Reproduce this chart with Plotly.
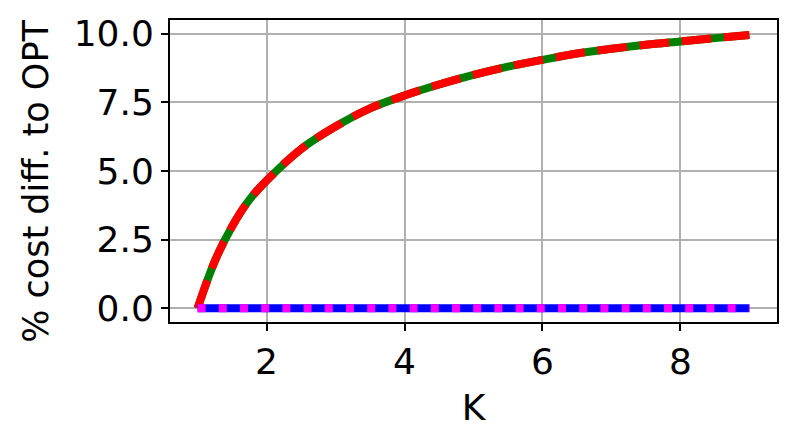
import plotly.graph_objects as go

# Data
K = [1, 1.25, 1.5, 1.75, 2, 2.5, 3, 3.5, 4, 4.5, 5, 5.5, 6, 6.5, 7, 7.5, 8, 8.5, 9]
cost_a = [0, 1.72, 2.98, 3.95, 4.65, 5.8, 6.62, 7.28, 7.75, 8.15, 8.5, 8.8, 9.05, 9.28, 9.45, 9.6, 9.72, 9.84, 9.95]
cost_b = cost_a[:]  # red dashed overlaps green exactly
cost_c = [0] * len(K)
cost_d = [0] * len(K)

y_ticks = [0, 2.5, 5, 7.5, 10]
y_tick_labels = ["0.0", "2.5", "5.0", "7.5", "10.0"]
x_ticks = [2, 4, 6, 8]

FONT = "DejaVu Sans"

fig = go.Figure()
fig.add_trace(go.Scatter(x=K, y=cost_a, mode="lines", line=dict(color="green", width=8, shape="spline")))
fig.add_trace(go.Scatter(x=K, y=cost_b, mode="lines", line=dict(color="red", width=8, shape="spline", dash="29.6px,12.8px")))
fig.add_trace(go.Scatter(x=K, y=cost_c, mode="lines", line=dict(color="blue", width=8)))
fig.add_trace(go.Scatter(x=K, y=cost_d, mode="lines", line=dict(color="magenta", width=8, dash="8px,13.2px")))

fig.update_layout(
    width=794, height=444,
    margin=dict(l=162, r=25, t=12, b=130, autoexpand=False),
    paper_bgcolor="white", plot_bgcolor="white",
    showlegend=False,
    font=dict(family=FONT, size=36, color="black"),
    annotations=[dict(
        text="% cost diff. to OPT", textangle=-90,
        xref="paper", yref="paper", x=-0.222, y=0.465,
        xanchor="center", yanchor="middle", showarrow=False,
        font=dict(family=FONT, size=35, color="black"),
    )],
)
fig.update_xaxes(
    range=[0.6, 9.4], tickvals=x_ticks, ticktext=[str(v) for v in x_ticks],
    showgrid=True, gridcolor="#b0b0b0", gridwidth=1.6,
    showline=True, linecolor="black", linewidth=2, mirror=True,
    ticks="outside", ticklen=7, tickwidth=1.6, tickcolor="black",
    zeroline=False,
    title=dict(text="K", font=dict(size=36), standoff=14),
    automargin=False,
)
fig.update_yaxes(
    range=[-0.5, 10.5], tickvals=y_ticks, ticktext=y_tick_labels,
    showgrid=True, gridcolor="#b0b0b0", gridwidth=1.6,
    showline=True, linecolor="black", linewidth=2, mirror=True,
    ticks="outside", ticklen=7, tickwidth=1.6, tickcolor="black",
    zeroline=False,
    automargin=False,
)

fig.write_html("out.html")
